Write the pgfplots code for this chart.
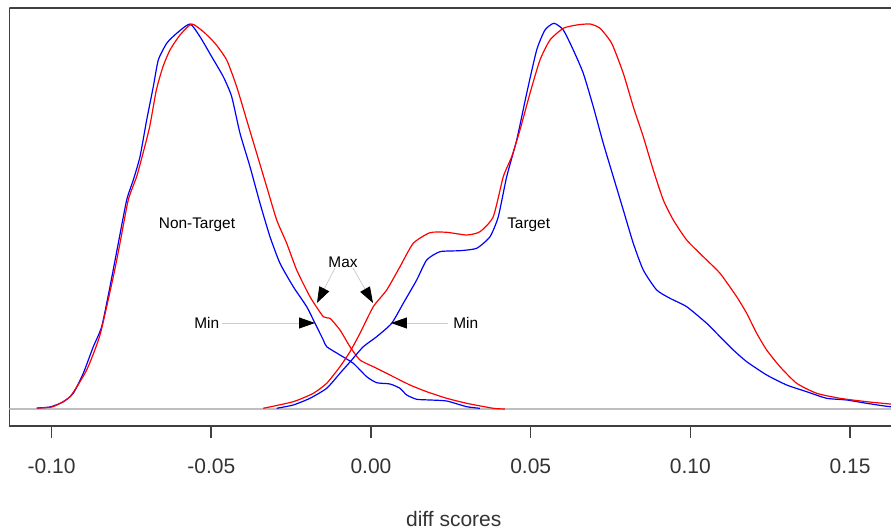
\documentclass[border=0pt]{standalone}
\usepackage{fontspec}
\setmainfont{Liberation Sans}
\usepackage{pgfplots}
\pgfplotsset{compat=1.18}
\usetikzlibrary{arrows.meta}
\definecolor{rred}{RGB}{255,0,0}
\definecolor{rblue}{RGB}{0,0,255}
\definecolor{basegray}{RGB}{190,190,190}
\definecolor{anngray}{RGB}{205,205,205}
\begin{document}
\begin{tikzpicture}
\useasboundingbox (-4.75pt,-51.5pt) rectangle (440.75pt,213pt);
\begin{axis}[
  scale only axis,
  width=440.75pt, height=209pt,
  xmin=-0.11318, xmax=0.16281,
  ymin=-17, ymax=401,
  axis lines*=left,
  axis line style={black!75, line width=0.8pt},
  ytick=\empty,
  xtick={-0.10,-0.05,0,0.05,0.10,0.15},
  xticklabels={-0.10,-0.05,0.00,0.05,0.10,0.15},
  tick align=outside,
  major tick length=6pt,
  tick style={black!75, line width=0.8pt},
  xticklabel shift=7pt,
  /pgf/number format/assume math mode=true,
  tick label style={font=\fontsize{10.5}{12}\selectfont, text=black!80},
  xlabel={diff scores},
  xlabel style={font=\fontsize{10.5}{12}\selectfont, text=black!80, at={(axis description cs:0.504,0)}, anchor=center, yshift=-46.5pt},
  every axis plot/.append style={line width=0.6pt, smooth, tension=0.35},
]
\draw[black!75, line width=0.8pt] (rel axis cs:0,1) -- (rel axis cs:1,1);
\addplot[basegray, line width=0.6pt, sharp plot] coordinates {(-0.12,0) (0.17,0)};

% Non-target, blue
\addplot[rblue] coordinates {
(-0.10467,1) (-0.1005,2) (-0.09643,7) (-0.09321,15.7) (-0.09008,35.7) (-0.08694,62.3)
(-0.08432,82.3) (-0.08172,122.3) (-0.07912,165.7) (-0.07649,209) (-0.07442,229)
(-0.07232,252.3) (-0.07023,289) (-0.06816,322.3) (-0.06659,349) (-0.06396,365.7)
(-0.06083,375.7) (-0.05667,385) (-0.05354,372.3) (-0.04988,352.3) (-0.04624,332.3)
(-0.04361,312.3) (-0.04101,275.7) (-0.03788,242.3) (-0.03475,205.7) (-0.03162,172.3)
(-0.02849,145.7) (-0.02433,122.3) (-0.02013,102.3) (-0.01753,85.7) (-0.01493,69)
(-0.01387,62.3) (-0.00971,54) (-0.00554,45.7) (-0.00135,32.3) (0.00178,26.3)
(0.00595,25) (0.00908,20.7) (0.01118,14) (0.01431,9.7) (0.01847,9) (0.0237,8)
(0.02996,2.3) (0.03413,0.7)
};
% Non-target, red
\addplot[rred] coordinates {
(-0.10426,1) (-0.09956,2.3) (-0.09424,12.3) (-0.08902,39) (-0.08485,74) (-0.08068,132.3)
(-0.07859,165.7) (-0.0760,209) (-0.07338,232.3) (-0.07138,255.7) (-0.06929,282.3)
(-0.0672,319) (-0.06513,342.3) (-0.06293,359) (-0.0598,374) (-0.05614,385)
(-0.0525,377.3) (-0.04884,365.7) (-0.04518,349) (-0.04205,322.3) (-0.03892,289)
(-0.03579,255.7) (-0.03266,222.3) (-0.02952,189) (-0.02639,165.7) (-0.02326,139)
(-0.0191,112.3) (-0.01493,92.3) (-0.01284,90.7) (-0.00971,79) (-0.00657,62.3)
(-0.00344,49) (0.00178,40.7) (0.00698,32.3) (0.01221,24) (0.01744,17.3)
(0.0237,10.7) (0.02996,5.7) (0.03829,0.7) (0.04195,0)
};
% Target, blue
\addplot[rblue] coordinates {
(-0.02952,0.7) (-0.02433,4) (-0.0191,10.7) (-0.01387,20.7) (-0.00971,35.7)
(-0.00604,49) (-0.00241,62.3) (0.00178,72.3) (0.00648,85.7) (0.01011,105.7)
(0.01431,129) (0.01744,149) (0.0216,157.3) (0.02786,158.3) (0.03309,160.7)
(0.03726,172.3) (0.03986,192.3) (0.04249,232.3) (0.04562,269) (0.04875,315.7)
(0.05188,359) (0.05448,379) (0.05729,385.7) (0.06021,379) (0.06334,359)
(0.06647,335.7) (0.0696,302.3) (0.07273,265.7) (0.07586,232.3) (0.07899,199)
(0.08212,165.7) (0.08525,139) (0.08945,119) (0.09361,110.7) (0.09884,102.3)
(0.1051,85.7) (0.10927,72.3) (0.11343,59) (0.11763,47.3) (0.12389,34)
(0.13015,24) (0.13641,17.3) (0.14267,10.7) (0.14894,9) (0.1552,5.7)
(0.16249,2.3) (0.17,1)
};
% Target, red
\addplot[rred] coordinates {
(-0.03372,0.7) (-0.02433,7.3) (-0.01806,15.7) (-0.01387,25.7) (-0.00971,42.3)
(-0.00657,57.3) (-0.00344,75.7) (0.00072,102.3) (0.00492,119) (0.00908,142.3)
(0.01324,165.7) (0.01847,176.3) (0.0237,176.7) (0.02996,174) (0.03413,177.3)
(0.03829,192.3) (0.04142,232.3) (0.04405,252.3) (0.04665,279) (0.04978,315.7)
(0.05291,349) (0.05604,369) (0.06021,380.7) (0.0644,384) (0.06857,385)
(0.0717,380.7) (0.07536,365.7) (0.07899,335.7) (0.08212,302.3) (0.08525,272.3)
(0.08838,239) (0.09152,209) (0.09465,189) (0.09884,169) (0.10404,152.3)
(0.10927,135.7) (0.11449,112.3) (0.11763,95.7) (0.12076,75.7) (0.12389,59)
(0.12805,42.3) (0.13328,25.7) (0.13954,15.7) (0.14684,10.7) (0.1552,7.3)
(0.16249,5) (0.17,3)
};

% Annotations
\node[font=\fontsize{7.7}{9}\selectfont] at (axis cs:-0.05448,184) {Non-Target};
\node[font=\fontsize{7.7}{9}\selectfont] at (axis cs:0.04937,184) {Target};
\node[font=\fontsize{7.7}{9}\selectfont] at (axis cs:-0.00877,146.3) {Max};
\node[font=\fontsize{7.7}{9}\selectfont] at (axis cs:-0.05144,86) {Min};
\node[font=\fontsize{7.7}{9}\selectfont] at (axis cs:0.02968,86) {Min};
\draw[anngray, line width=0.4pt, -{Triangle[length=8pt,width=5.5pt,color=black]}] (axis cs:-0.01127,141) -- (axis cs:-0.01691,106);
\draw[anngray, line width=0.4pt, -{Triangle[length=8pt,width=5.5pt,color=black]}] (axis cs:-0.00564,141) -- (axis cs:0.00063,106);
\draw[anngray, line width=0.4pt, -{Triangle[length=8pt,width=5.5pt,color=black]}] (axis cs:-0.04665,86) -- (axis cs:-0.01753,86);
\draw[anngray, line width=0.4pt, -{Triangle[length=8pt,width=5.5pt,color=black]}] (axis cs:0.02411,86) -- (axis cs:0.00626,86);
\end{axis}
\end{tikzpicture}
\end{document}
